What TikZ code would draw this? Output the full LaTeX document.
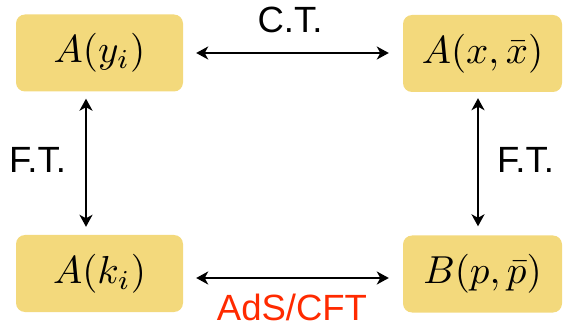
\documentclass[tikz,border=0pt]{standalone}
\usepackage{fontspec}
\usepackage{graphicx}
\newfontfamily\labfont{Liberation Sans}
\usetikzlibrary{arrows.meta}
\definecolor{boxfill}{RGB}{243,217,124}
\definecolor{adsred}{RGB}{255,42,0}
\newcommand{\boxmath}[1]{\scalebox{3.9}{$#1$}}
\tikzset{
  mbox/.style={fill=boxfill, rounded corners=9pt, inner sep=0pt,
    minimum height=77pt},
  arr/.style={line width=2.8pt, {Stealth[length=12pt,width=13pt,inset=3.5pt]}-{Stealth[length=12pt,width=13pt,inset=3.5pt]}},
  lab/.style={font=\labfont\fontsize{36.5}{36.5}\selectfont, inner sep=0pt, anchor=base, text depth=0pt}
}
\begin{document}
\begin{tikzpicture}[x=1pt,y=1pt]
\useasboundingbox (0,0) rectangle (563,-326);
\node[mbox, minimum width=167pt] (TL) at (99.5,-53) {\boxmath{A(y_i)}};
\node[mbox, minimum width=159pt] (TR) at (482.5,-53.5) {\boxmath{A(x,\bar{x})}};
\node[mbox, minimum width=167pt] (BL) at (99.5,-273.5) {\boxmath{A(k_i)}};
\node[mbox, minimum width=159pt] (BR) at (482.5,-274) {\boxmath{B(p,\bar{p})}};
\draw[arr] ([xshift=13pt]TL.east) -- ([xshift=-14pt,yshift=0.5pt]TR.west);
\draw[arr] ([xshift=13pt,yshift=-4.5pt]BL.east) -- ([xshift=-14pt,yshift=-4pt]BR.west);
\draw[arr] ([xshift=-13.5pt,yshift=-7pt]TL.south) -- ([xshift=-13.5pt,yshift=8pt]BL.north);
\draw[arr] ([xshift=-4.5pt,yshift=-6pt]TR.south) -- ([xshift=-4.5pt,yshift=9pt]BR.north);
\node[lab] (ct) at (290,-33) {C.T.};
\node[lab, text=adsred] (ads) at (292,-320.5) {AdS/CFT};
\node[lab] (ftl) at (37.5,-173) {F.T.};
\node[lab] (ftr) at (525.5,-173) {F.T.};
\end{tikzpicture}
\end{document}
